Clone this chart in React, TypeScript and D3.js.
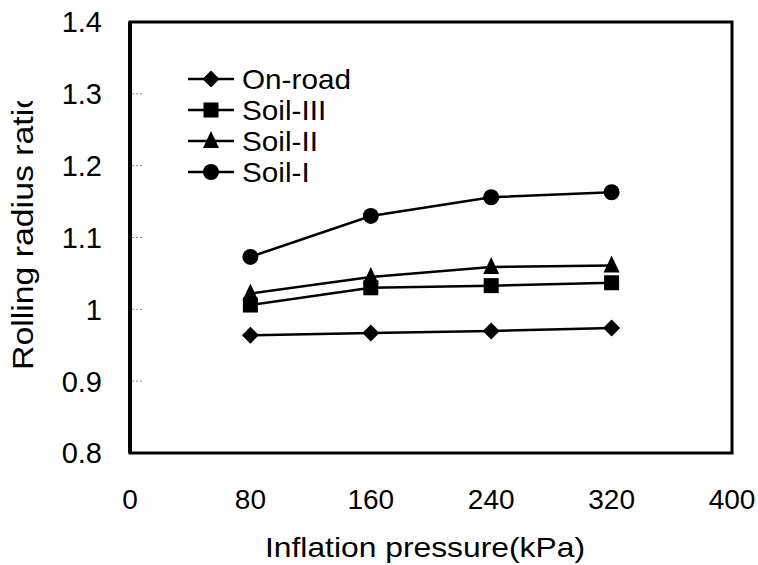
import React from "react";
import * as d3 from "d3";

const pressures = [80, 160, 240, 320];
const onRoad = [0.964, 0.967, 0.97, 0.974];
const soilIII = [1.006, 1.03, 1.033, 1.037];
const soilII = [1.022, 1.045, 1.059, 1.061];
const soilI = [1.073, 1.13, 1.156, 1.163];
const xTicks = [0, 80, 160, 240, 320, 400];
const yTicks = [0.8, 0.9, 1.0, 1.1, 1.2, 1.3, 1.4];
const seriesNames = ["On-road", "Soil-III", "Soil-II", "Soil-I"];
const seriesShapes = ["diamond", "square", "triangle", "circle"];

const W = 758;
const H = 565;
const left = 130, right = 732, top = 22, bottom = 453;
const FONT = "Liberation Sans, Arial, sans-serif";

function Marker({ shape, x, y }: { shape: string; x: number; y: number }) {
  if (shape === "diamond") {
    const r = 8.5;
    return <path d={`M${x},${y - r}L${x + r},${y}L${x},${y + r}L${x - r},${y}Z`} fill="#000" />;
  }
  if (shape === "square") {
    const s = 7.5;
    return <rect x={x - s} y={y - s} width={2 * s} height={2 * s} fill="#000" />;
  }
  if (shape === "triangle") {
    const s = 8;
    return <path d={`M${x},${y - s - 2}L${x + s},${y + s - 1}L${x - s},${y + s - 1}Z`} fill="#000" />;
  }
  return <circle cx={x} cy={y} r={8} fill="#000" />;
}

export default function App() {
  const x = d3.scaleLinear().domain([0, 400]).range([left, right]);
  const y = d3.scaleLinear().domain([0.8, 1.4]).range([bottom, top]);
  const allSeries = [onRoad, soilIII, soilII, soilI];
  const line = d3
    .line<number>()
    .x((_, i) => x(pressures[i]))
    .y((d) => y(d));
  const legendY = [79, 110, 141, 172];

  return (
    <svg width={W} height={H} style={{ position: "absolute", left: 0, top: 0, background: "#fff" }}>
      <defs>
        <clipPath id="ytitleclip" clipPathUnits="userSpaceOnUse">
          <rect x={0} y={101} width={60} height={400} />
        </clipPath>
      </defs>
      <rect x={0} y={0} width={W} height={H} fill="#fff" />
      {/* faint inner ticks */}
      {yTicks.slice(1, -1).map((t) => (
        <line key={t} x1={left + 2} x2={left + 14} y1={y(t)} y2={y(t)} stroke="#888" strokeWidth={1} strokeDasharray="2,2" />
      ))}
      {/* frame */}
      <rect x={left} y={top} width={right - left} height={bottom - top} fill="none" stroke="#000" strokeWidth={3} />
      <line x1={left} x2={left} y1={top} y2={bottom} stroke="#000" strokeWidth={4} />
      {/* y tick labels */}
      {yTicks.map((t) => (
        <text key={t} x={102} y={y(t)} dy="0.36em" textAnchor="end" fontFamily={FONT} fontSize={29} fill="#000">
          {d3.format("~g")(+t.toFixed(1))}
        </text>
      ))}
      {/* x tick labels */}
      {xTicks.map((t) => (
        <text key={t} x={x(t)} y={509} textAnchor="middle" fontFamily={FONT} fontSize={28} fill="#000">
          {t}
        </text>
      ))}
      {/* axis titles */}
      <text x={425} y={557} textAnchor="middle" fontFamily={FONT} fontSize={28} textLength={320} lengthAdjust="spacingAndGlyphs" fill="#000">
        Inflation pressure(kPa)
      </text>
      <g clipPath="url(#ytitleclip)">
        <text transform="translate(33,370) rotate(-90)" textAnchor="start" fontFamily={FONT} fontSize={29} textLength={280} lengthAdjust="spacingAndGlyphs" fill="#000">
          Rolling radius ratio
        </text>
      </g>
      {/* series */}
      {allSeries.map((s, si) => (
        <g key={si}>
          <path d={line(s) || ""} fill="none" stroke="#000" strokeWidth={2.5} />
          {s.map((v, i) => (
            <Marker key={i} shape={seriesShapes[si]} x={x(pressures[i])} y={y(v)} />
          ))}
        </g>
      ))}
      {/* legend */}
      {seriesNames.map((n, i) => (
        <g key={n}>
          <line x1={188} x2={234} y1={legendY[i]} y2={legendY[i]} stroke="#000" strokeWidth={2.5} />
          <Marker shape={seriesShapes[i]} x={211} y={legendY[i]} />
          <text
            transform={`translate(242,${legendY[i]}) scale(1.1,1)`}
            dy="0.36em"
            fontFamily={FONT}
            fontSize={27}
            fill="#000"
          >
            {n}
          </text>
        </g>
      ))}
    </svg>
  );
}
